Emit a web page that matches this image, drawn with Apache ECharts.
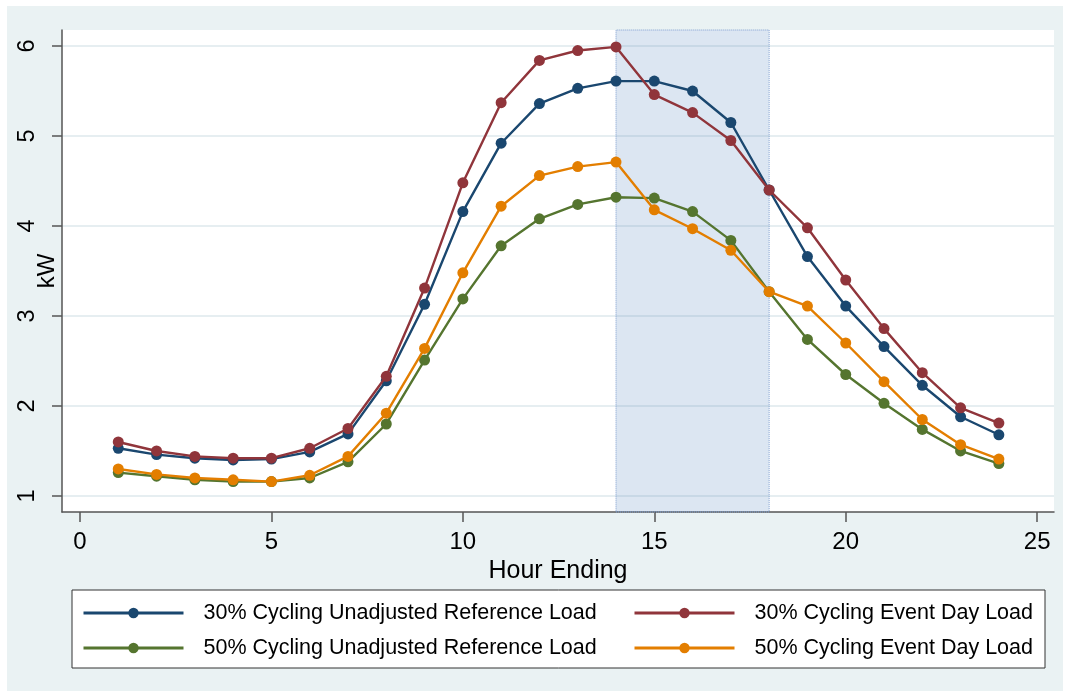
<!DOCTYPE html>
<html>
<head>
<meta charset="utf-8">
<script src="https://cdn.jsdelivr.net/npm/echarts@6/dist/echarts.min.js"></script>
<style>
html,body{margin:0;padding:0;background:#fff;}
#chart{width:1070px;height:698px;background:#eaf2f3;box-shadow:inset 7px 6px 0 0 #fff, inset -7px -7px 0 0 #fff;}
</style>
</head>
<body>
<div id="chart"></div>
<script>
const hours = [1,2,3,4,5,6,7,8,9,10,11,12,13,14,15,16,17,18,19,20,21,22,23,24];
const ref30 = [1.53,1.46,1.42,1.40,1.41,1.49,1.69,2.28,3.13,4.16,4.92,5.36,5.53,5.61,5.61,5.50,5.15,4.40,3.66,3.11,2.66,2.23,1.88,1.68];
const event30 = [1.60,1.50,1.44,1.42,1.42,1.53,1.75,2.33,3.31,4.48,5.37,5.84,5.95,5.99,5.46,5.26,4.95,4.40,3.98,3.40,2.86,2.37,1.98,1.81];
const ref50 = [1.26,1.22,1.18,1.16,1.16,1.20,1.38,1.80,2.51,3.19,3.78,4.08,4.24,4.32,4.31,4.16,3.84,3.27,2.74,2.35,2.03,1.74,1.50,1.36];
const event50 = [1.30,1.24,1.20,1.18,1.16,1.23,1.44,1.92,2.64,3.48,4.22,4.56,4.66,4.71,4.18,3.97,3.73,3.27,3.11,2.70,2.27,1.85,1.57,1.41];
const xTicks = [0,5,10,15,20,25];
const yTicks = [1,2,3,4,5,6];
const eventWindow = [14,18];
const names = ['30% Cycling Unadjusted Reference Load','30% Cycling Event Day Load','50% Cycling Unadjusted Reference Load','50% Cycling Event Day Load'];
const colors = ['#1a476f','#90353b','#55752f','#e37e00'];
const seriesValues = [ref30, event30, ref50, event50];

const font = 'Liberation Sans, Arial, sans-serif';
const chart = echarts.init(document.getElementById('chart'), null, {renderer:'canvas'});

const series = seriesValues.map((vals, i) => ({
  name: names[i],
  type: 'line',
  data: hours.map((h, j) => [h, vals[j]]),
  symbol: 'circle',
  symbolSize: 11,
  showSymbol: true,
  lineStyle: {color: colors[i], width: 2.4},
  itemStyle: {color: colors[i]},
  z: 2 + i
}));
series.push({
  name: 'shade',
  type: 'line',
  data: [],
  z: 10,
  markArea: {
    silent: true,
    itemStyle: {color: 'rgba(79,129,189,0.2)', borderColor: '#7f9fd0', borderWidth: 1, borderType: 'dotted'},
    data: [[{xAxis: eventWindow[0]}, {xAxis: eventWindow[1]}]]
  }
});

const legendPos = [[82, 602], [633, 602], [82, 637], [633, 637]];
const legends = names.map((n, i) => ({
  data: [n],
  left: legendPos[i][0],
  top: legendPos[i][1],
  padding: 0,
  itemWidth: 100,
  itemHeight: 13,
  selectedMode: false,
  lineStyle: {width: 3},
  textStyle: {fontFamily: font, fontSize: 21.5, color: '#000', padding: [0,0,0,15]}
}));

chart.setOption({
  animation: false,
  backgroundColor: 'transparent',
  graphic: [{
    type: 'rect', z: -1,
    shape: {x: 72, y: 590, width: 973, height: 78},
    style: {fill: '#fff', stroke: '#333', lineWidth: 1}
  }],
  grid: {left: 62, top: 30, right: 16, bottom: 186, show: true, backgroundColor: '#fff', borderWidth: 0},
  legend: legends,
  xAxis: {
    type: 'value',
    min: -0.47, max: 25.44,
    name: 'Hour Ending',
    nameLocation: 'middle',
    nameGap: 40,
    nameTextStyle: {fontFamily: font, fontSize: 25, color: '#000'},
    axisLine: {show: true, onZero: false, lineStyle: {color: '#555', width: 1.5}},
    axisTick: {show: true, length: 10, customValues: xTicks, lineStyle: {color: '#555', width: 1.5}},
    axisLabel: {customValues: xTicks, margin: 18, fontFamily: font, fontSize: 24, color: '#000'},
    splitLine: {show: false}
  },
  yAxis: {
    type: 'value',
    min: 0.822, max: 6.178,
    name: 'kW',
    nameLocation: 'middle',
    nameRotate: 90,
    nameGap: 3,
    nameMoveOverlap: false,
    nameTextStyle: {fontFamily: font, fontSize: 24, color: '#000'},
    axisLine: {show: true, onZero: false, lineStyle: {color: '#555', width: 1.5}},
    axisTick: {show: true, length: 10, customValues: yTicks, lineStyle: {color: '#555', width: 1.5}},
    axisLabel: {customValues: yTicks, rotate: 90, margin: 22, fontFamily: font, fontSize: 23.5, color: '#000'},
    splitLine: {show: true, lineStyle: {color: '#e6eef1', width: 2}}
  },
  series: series
});
</script>
</body>
</html>
